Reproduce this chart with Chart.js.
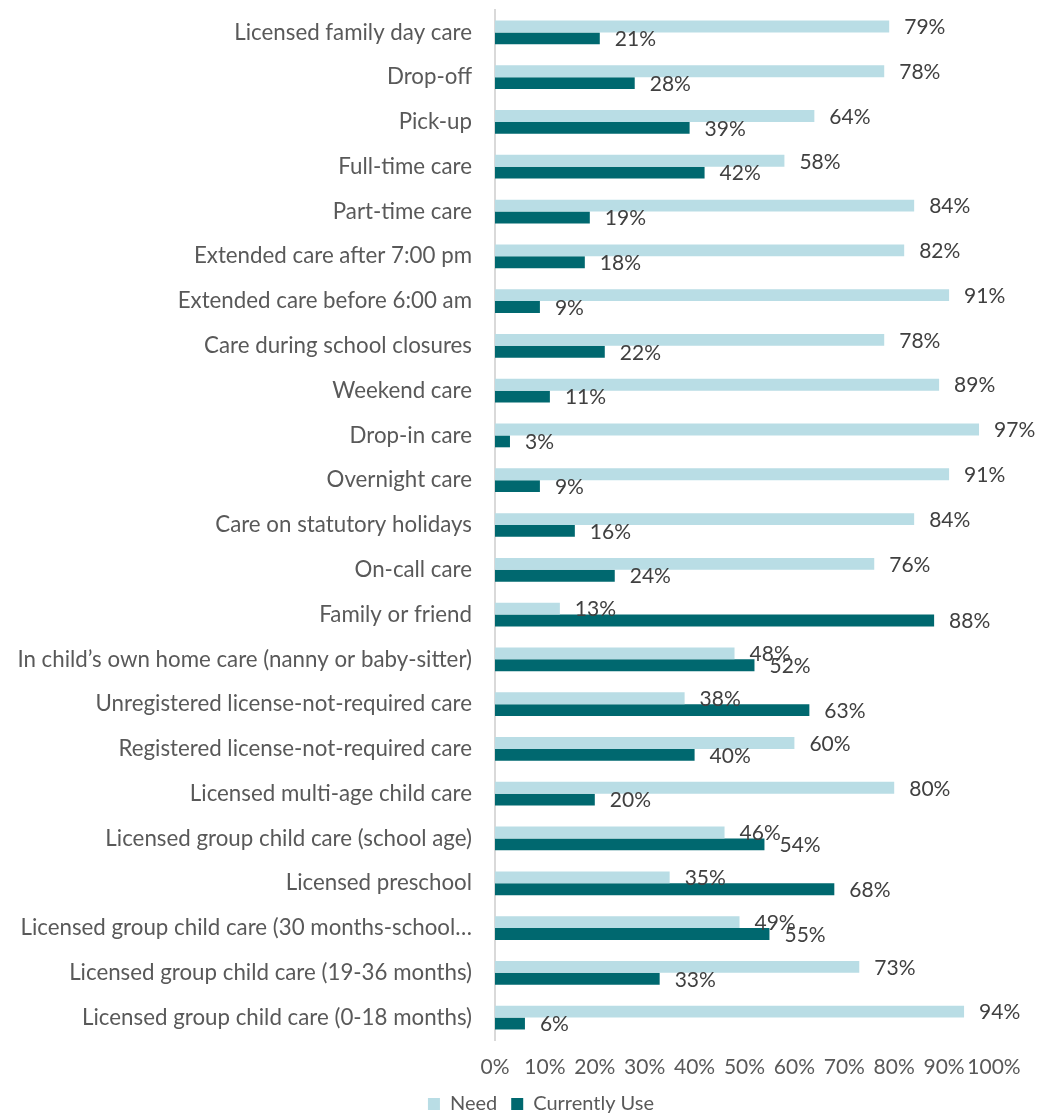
<!DOCTYPE html>
<html>
<head>
<meta charset="utf-8">
<script src="https://cdn.jsdelivr.net/npm/chart.js@4.4.1/dist/chart.umd.min.js"></script>
<style>
  body { margin: 0; background: #fff; }
</style>
</head>
<body>
<canvas id="careChart" width="1039" height="1117"></canvas>
<script>
const categories = [
    'Licensed family day care',
    'Drop-off',
    'Pick-up',
    'Full-time care',
    'Part-time care',
    'Extended care after 7:00 pm',
    'Extended care before 6:00 am',
    'Care during school closures',
    'Weekend care',
    'Drop-in care',
    'Overnight care',
    'Care on statutory holidays',
    'On-call care',
    'Family or friend',
    'In child\u2019s own home care (nanny or baby-sitter)',
    'Unregistered license-not-required care',
    'Registered license-not-required care',
    'Licensed multi-age child care',
    'Licensed group child care (school age)',
    'Licensed preschool',
    'Licensed group child care (30 months-school\u2026',
    'Licensed group child care (19-36 months)',
    'Licensed group child care (0-18 months)'
];
const needValues = [79, 78, 64, 58, 84, 82, 91, 78, 89, 97, 91, 84, 76, 13, 48, 38, 60, 80, 46, 35, 49, 73, 94];
const useValues = [21, 28, 39, 42, 19, 18, 9, 22, 11, 3, 9, 16, 24, 88, 52, 63, 40, 20, 54, 68, 55, 33, 6];
const xTicks = [0, 10, 20, 30, 40, 50, 60, 70, 80, 90, 100];

const fontFamily = 'Lato, "Open Sans", sans-serif';

// value labels at the end of each bar
const valueLabels = {
    id: 'valueLabels',
    afterDatasetsDraw(chart) {
        const ctx = chart.ctx;
        ctx.save();
        ctx.font = '21px ' + fontFamily;
        ctx.fillStyle = '#404040';
        ctx.textAlign = 'left';
        ctx.textBaseline = 'middle';
        chart.data.datasets.forEach((ds, i) => {
            chart.getDatasetMeta(i).data.forEach((bar, j) => {
                ctx.fillText(ds.data[j] + '%', bar.x + 15, bar.y + 1);
            });
        });
        ctx.restore();
    }
};

// the legend in the original sits centred under the plot, not the page
const legendShift = {
    id: 'legendShift',
    afterLayout(chart) {
        chart.legend.left += 44;
        chart.legend.right += 44;
    }
};

const ctx = document.getElementById('careChart').getContext('2d');
new Chart(ctx, {
    type: 'bar',
    data: {
        labels: categories,
        datasets: [{
            label: 'Need',
            data: needValues,
            backgroundColor: '#B9DDE5',
            categoryPercentage: 0.53,
            barPercentage: 1
        }, {
            label: 'Currently Use',
            data: useValues,
            backgroundColor: '#00686F',
            categoryPercentage: 0.53,
            barPercentage: 1
        }]
    },
    options: {
        indexAxis: 'y',
        responsive: false,
        animation: false,
        layout: {
            padding: { top: 10, left: 0, right: 45, bottom: -7 }
        },
        scales: {
            x: {
                min: 0,
                max: 100,
                afterBuildTicks: scale => {
                    scale.ticks = xTicks.map(v => ({ value: v }));
                },
                afterFit: scale => { scale.height = 40; },
                grid: { display: false, drawTicks: false },
                border: { display: false },
                ticks: {
                    autoSkip: false,
                    maxRotation: 0,
                    padding: 15,
                    color: '#595959',
                    font: { family: fontFamily, size: 21 },
                    callback: v => v + '%'
                }
            },
            y: {
                afterFit: scale => {
                    scale.width = 495;
                    scale.paddingTop = 0;
                    scale.paddingBottom = 0;
                },
                grid: { display: false, drawTicks: false },
                border: { display: true, color: '#D9D9D9', width: 2 },
                ticks: {
                    autoSkip: false,
                    padding: 23,
                    color: '#595959',
                    font: { family: fontFamily, size: 22.3 }
                }
            }
        },
        plugins: {
            legend: {
                position: 'bottom',
                labels: {
                    boxWidth: 12,
                    boxHeight: 12,
                    padding: 14,
                    color: '#595959',
                    font: { family: fontFamily, size: 20 }
                }
            },
            tooltip: { enabled: false }
        }
    },
    plugins: [valueLabels, legendShift]
});
</script>
</body>
</html>
